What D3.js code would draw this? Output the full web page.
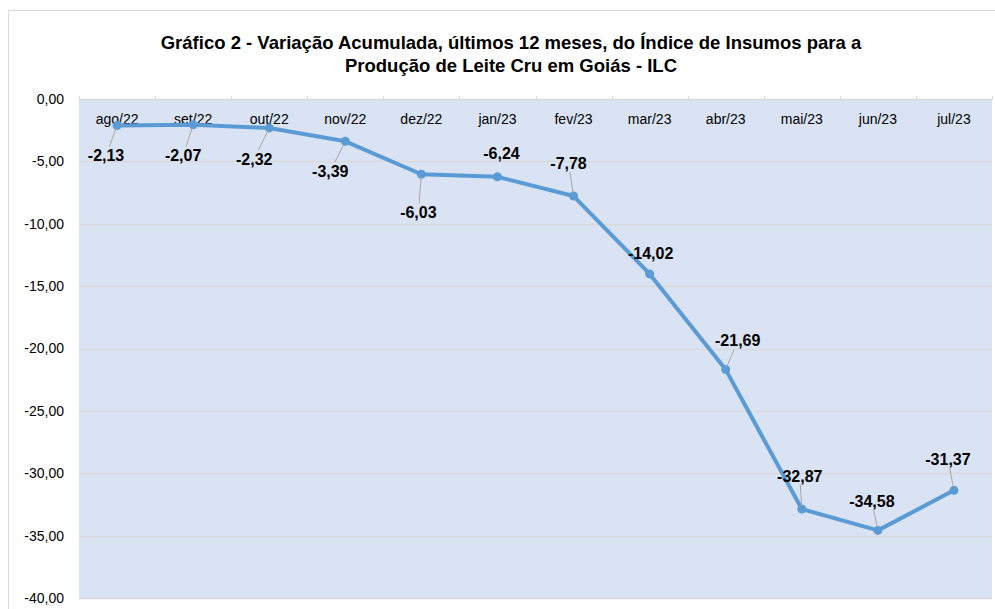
<!DOCTYPE html>
<html>
<head>
<meta charset="utf-8">
<script src="https://cdn.jsdelivr.net/npm/d3@7"></script>
<style>
  body { margin: 0; background: #fff; }
  svg { display: block; font-family: "Liberation Sans", Arial, sans-serif; }
</style>
</head>
<body>
<div id="chart"></div>
<script>
// data
const months = ["ago/22", "set/22", "out/22", "nov/22", "dez/22", "jan/23",
                "fev/23", "mar/23", "abr/23", "mai/23", "jun/23", "jul/23"];
const values = [-2.13, -2.07, -2.32, -3.39, -6.03, -6.24, -7.78, -14.02, -21.69, -32.87, -34.58, -31.37];
const yTicks = [0, -5, -10, -15, -20, -25, -30, -35, -40];
const titleLines = ["Gráfico 2 - Variação Acumulada, últimos 12 meses, do Índice de Insumos para a",
                    "Produção de Leite Cru em Goiás - ILC"];

// where each data label sits relative to its point (px)
const labelOffsets = [[-11, 30], [-10, 31], [-15, 31], [-15, 30], [-3, 38], [4, -23],
                      [-5, -33], [1, -20], [12, -29], [-2, -33], [-6, -29], [-6, -31]];

const W = 995, H = 609;
const margin = { top: 99, right: 3, bottom: 11, left: 79 };
const width = W - margin.left - margin.right;
const height = H - margin.top - margin.bottom;

// pt-BR style numbers with a plain hyphen as minus
const locale = d3.formatLocale({ decimal: ",", thousands: ".", grouping: [3], currency: ["R$", ""], minus: "-" });
const fmt = locale.format(".2f");

const svg = d3.select("#chart").append("svg")
  .attr("width", W)
  .attr("height", H);

// outer chart border (only top and left visible in the crop)
svg.append("path")
  .attr("d", `M8.5,${H} V10.5 H${W}`)
  .attr("fill", "none")
  .attr("stroke", "#d9d9d9");

// title
svg.append("g").selectAll("text")
  .data(titleLines)
  .join("text")
  .attr("x", 511)
  .attr("y", (d, i) => 49 + i * 23)
  .attr("text-anchor", "middle")
  .attr("font-size", "18.5px")
  .attr("font-weight", "bold")
  .attr("fill", "#000")
  .text(d => d);

const xScale = d3.scaleBand().domain(months).range([0, width]);
const yScale = d3.scaleLinear().domain([-40, 0]).range([height, 0]);

const chart = svg.append("g")
  .attr("transform", `translate(${margin.left}, ${margin.top})`);

// plot area background
chart.append("rect")
  .attr("width", width)
  .attr("height", height)
  .attr("fill", "#dae3f3");

// gridlines
chart.append("g").selectAll("line")
  .data(yTicks)
  .join("line")
  .attr("x1", 0)
  .attr("x2", width)
  .attr("y1", d => Math.round(yScale(d)) + 0.5)
  .attr("y2", d => Math.round(yScale(d)) + 0.5)
  .attr("stroke", "#d9d9d9")
  .attr("stroke-width", 1.5);

// category tick marks on the zero line
chart.append("g").selectAll("line")
  .data(months.concat([null]))
  .join("line")
  .attr("x1", (d, i) => Math.round(i * xScale.step()) + 0.5)
  .attr("x2", (d, i) => Math.round(i * xScale.step()) + 0.5)
  .attr("y1", -3)
  .attr("y2", 1)
  .attr("stroke", "#d9d9d9");

// y axis labels
const yAxis = svg.append("g")
  .attr("transform", `translate(${margin.left}, ${margin.top})`)
  .call(d3.axisLeft(yScale).tickValues(yTicks).tickFormat(fmt).tickSize(0).tickPadding(15));
yAxis.select(".domain").remove();
yAxis.selectAll("text")
  .attr("font-family", "Liberation Sans, Arial, sans-serif")
  .attr("font-size", "14px")
  .attr("fill", "#000");

// x axis labels, placed at the top of the plot
const xAxis = chart.append("g")
  .call(d3.axisBottom(xScale).tickSize(0).tickPadding(0));
xAxis.select(".domain").remove();
xAxis.selectAll("text")
  .attr("font-family", "Liberation Sans, Arial, sans-serif")
  .attr("font-size", "14px")
  .attr("fill", "#000")
  .attr("dy", null)
  .attr("y", 25);

const cx = d => xScale(d) + xScale.bandwidth() / 2;
const points = months.map((m, i) => ({ m, v: values[i], off: labelOffsets[i] }));

// line
chart.append("path")
  .datum(points)
  .attr("fill", "none")
  .attr("stroke", "#5b9bd5")
  .attr("stroke-width", 4)
  .attr("stroke-linejoin", "round")
  .attr("d", d3.line().x(d => cx(d.m)).y(d => yScale(d.v)));

// markers
chart.append("g").selectAll("circle")
  .data(points)
  .join("circle")
  .attr("cx", d => cx(d.m))
  .attr("cy", d => yScale(d.v))
  .attr("r", 4.5)
  .attr("fill", "#5b9bd5");

// leader lines, from the point to the edge of the label box
const leaders = chart.append("g");
const labels = chart.append("g").selectAll("text")
  .data(points)
  .join("text")
  .attr("x", d => cx(d.m) + d.off[0])
  .attr("y", d => yScale(d.v) + d.off[1])
  .attr("dy", "0.35em")
  .attr("text-anchor", "middle")
  .attr("font-size", "16px")
  .attr("font-weight", "bold")
  .attr("fill", "#000")
  .text(d => fmt(d.v));

labels.each(function(d) {
  const px = cx(d.m), py = yScale(d.v);
  const lx = px + d.off[0], ly = py + d.off[1];
  const hw = this.getComputedTextLength() / 2 + 1, hh = 9;
  const dx = px - lx, dy = py - ly;
  const dist = Math.hypot(dx, dy);
  if (dist < 25) return;
  // scale factor to hit the box edge
  const t = Math.min(hw / Math.abs(dx || 1e-6), hh / Math.abs(dy || 1e-6));
  const ex = lx + dx * t, ey = ly + dy * t;
  const sx = px - dx / dist * 3, sy = py - dy / dist * 3;
  leaders.append("line")
    .attr("x1", sx).attr("y1", sy)
    .attr("x2", ex).attr("y2", ey)
    .attr("stroke", "#a6a6a6")
    .attr("stroke-width", 1);
});
</script>
</body>
</html>
